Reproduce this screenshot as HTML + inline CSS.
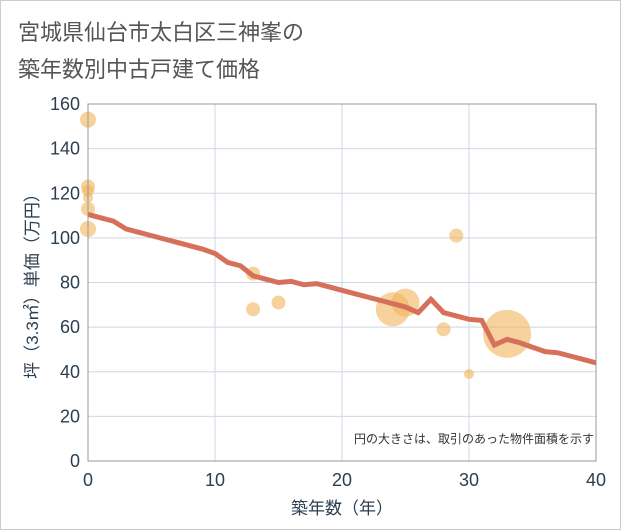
<!DOCTYPE html>
<html><head><meta charset="utf-8"><style>
body{margin:0;background:#fff;}
svg{display:block;font-family:"Liberation Sans","Noto Sans CJK JP",sans-serif;}
</style></head><body>
<svg id="c" width="621" height="530" viewBox="0 0 621 530">
<rect x="0.5" y="0.5" width="620" height="529" fill="#fff" stroke="#ccc"/>
<text x="18" y="40" font-size="22" fill="#555">宮城県仙台市太白区三神峯の</text>
<text x="18" y="77" font-size="22" fill="#555">築年数別中古戸建て価格</text>
<g id="grid"></g>
<g id="bubbles"></g>
<g id="line"></g>
<g id="axes"></g>
<text x="594" y="443" font-size="12" fill="#333" text-anchor="end">円の大きさは、取引のあった物件面積を示す</text>
<text x="342" y="514" font-size="17" fill="#2c3e50" text-anchor="middle">築年数（年）</text>
<text transform="translate(38,282) rotate(-90)" font-size="17" fill="#2c3e50" text-anchor="middle">坪（3.3㎡）単価（万円）</text>
</svg>
<script>
const xTicks=[0,10,20,30,40];
const yTicks=[0,20,40,60,80,100,120,140,160];
const bubbleAge=[0,0,0,0,0,0,13,13,15,24,25,28,29,30,33];
const bubblePrice=[153,123,121,118,113,104,84,68,71,68,71,59,101,39,57];
const bubbleSize=[8,7,6,5,7,8,7,7,7,17,14,7,7,5,24];
const lineAge=[0,1,2,3,4,5,6,7,8,9,10,11,12,13,14,15,16,17,18,19,20,21,22,23,24,25,26,27,28,29,30,31,32,33,34,35,36,37,38,39,40];
const linePrice=[110.5,109,107.5,104,102.5,101,99.5,98,96.5,95,93,89,87.5,83,81.5,80,80.5,79,79.5,78,76.5,75,73.5,72,70.5,69,66.5,72.5,66.5,65,63.5,63,52,54.5,53,51,49,48.5,47,45.5,44];
const X0=88,X1=596,Y0=461,Y1=104;
const sx=v=>X0+(v-0)/(40-0)*(X1-X0);
const sy=v=>Y0-(v-0)/(160-0)*(Y0-Y1);
const NS="http://www.w3.org/2000/svg";
function mk(t,a,p){const e=document.createElementNS(NS,t);for(const k in a)e.setAttribute(k,a[k]);p.appendChild(e);return e;}
const g=document.getElementById('grid'),ax=document.getElementById('axes');
yTicks.forEach(v=>{
 const l=mk('line',{x1:X0,x2:X1,y1:sy(v),y2:sy(v),stroke:'#cdd9e5','stroke-width':1},g);
 
 
 const t=mk('text',{x:X0-8,y:sy(v)+6,'font-size':18,fill:'#2c3e50','text-anchor':'end'},ax);
 t.textContent=v;
 
 
});
xTicks.forEach(v=>{
 const l=mk('line',{x1:sx(v),x2:sx(v),y1:Y1,y2:Y0,stroke:'#cdd9e5','stroke-width':1},g);
 
 
 const t=mk('text',{x:sx(v),y:Y0+25,'font-size':18,fill:'#2c3e50','text-anchor':'middle'},ax);
 t.textContent=v;
 
 
});
const fr=mk('rect',{x:X0,y:Y1,width:X1-X0,height:Y0-Y1,fill:'none',stroke:'#999','stroke-width':1},ax);


const b=document.getElementById('bubbles');
bubbleAge.forEach((a,i)=>{
 const c=mk('circle',{cx:sx(a),cy:sy(bubblePrice[i]),r:bubbleSize[i],fill:'rgba(242,180,90,0.6)'},b);
 
 
});
const pts=lineAge.map((a,i)=>sx(a)+','+sy(linePrice[i])).join(' ');
const pl=mk('polyline',{points:pts,fill:'none',stroke:'#d6705a','stroke-width':5,'stroke-linejoin':'miter'},document.getElementById('line'));


</script>
</body></html>
